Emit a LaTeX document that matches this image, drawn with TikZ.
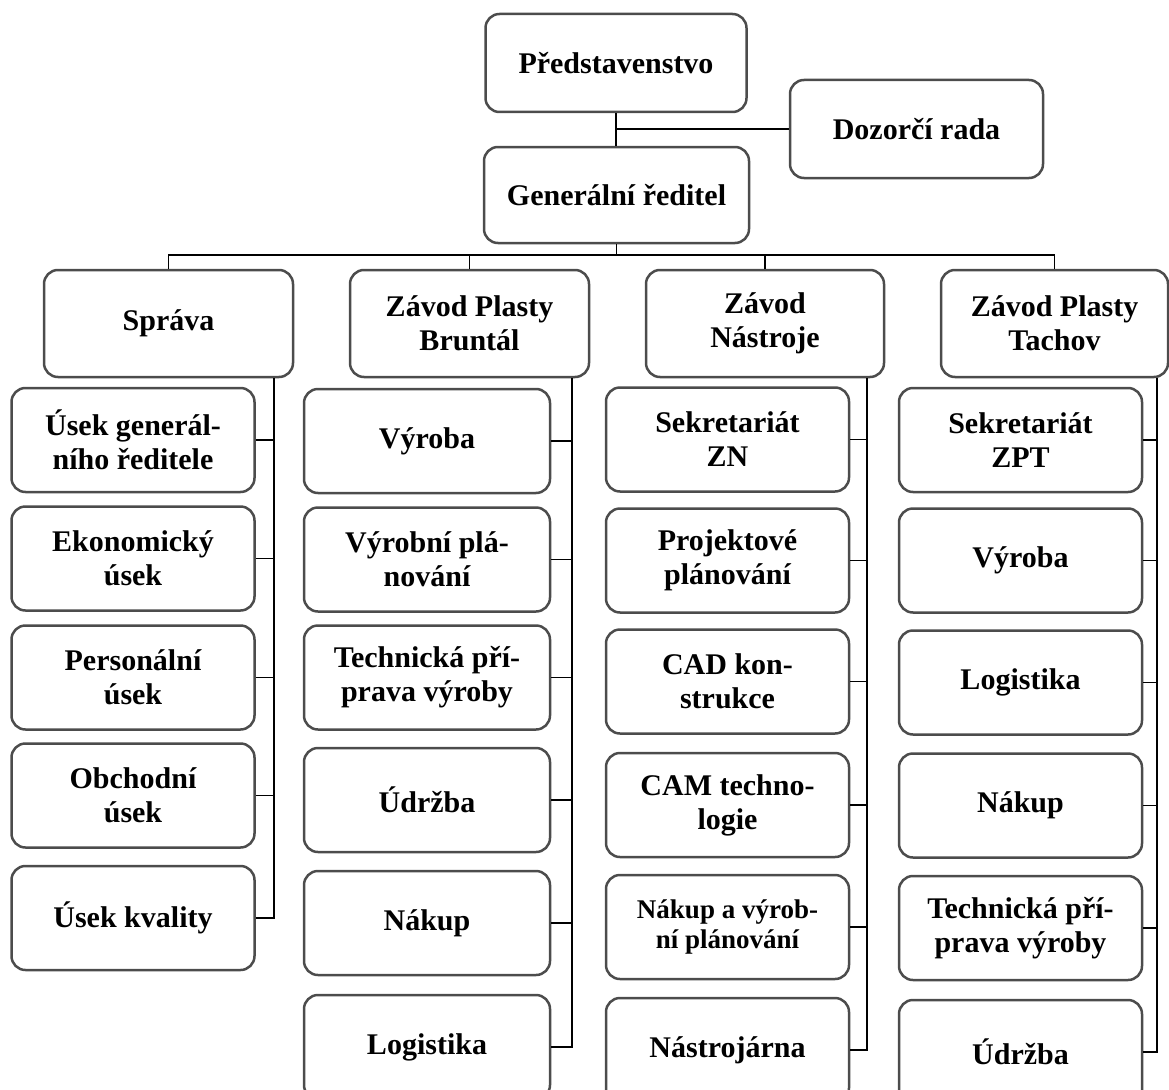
\documentclass[tikz,border=0pt]{standalone}
\usepackage{fontspec}
\setmainfont{Liberation Serif}

\begin{document}
\begin{tikzpicture}[x=1pt, y=-1pt,
		every node/.style={font=\fontsize{30}{34}\selectfont\bfseries},
		unit/.style={draw=black!70, line width=2.5pt, rounded corners=14pt, align=center, inner sep=0pt, minimum width=243pt, minimum height=104pt},
		head/.style={unit, minimum height=107pt},
		link/.style={black, line width=1.8pt}]
		
		\useasboundingbox (0,0) rectangle (1169,1089);
		\clip (0,0) rectangle (1169,1089);
		
		% Top management
		\node[unit, minimum width=261pt, minimum height=98pt] (predst) at (616,63) {Představenstvo};
		\node[unit, minimum width=253pt, minimum height=98pt] (dozor) at (916.5,129) {Dozorčí rada};
		\node[unit, minimum width=265pt, minimum height=96pt] (gen) at (616.5,195) {Generální ředitel};
		
		\draw[link] (predst.south) -- (predst.south |- gen.north);
		\draw[link] (dozor.west) -- (dozor.west -| predst.south);
		
		% Divisions
		\node[head, minimum width=249pt] (sprava) at (168.5,323.5) {Správa};
		\node[head, minimum width=239pt] (brunt) at (469.5,323.5) {Závod Plasty\\Bruntál};
		\node[head, minimum width=238pt] (nastr) at (765,323.5) {Závod\\Nástroje};
		\node[head, minimum width=227pt] (tachov) at (1054.5,323.5) {Závod Plasty\\Tachov};
		
		\coordinate (bus) at ([yshift=-11pt]gen.south);
		\draw[link] (gen.south) -- (bus);
		\draw[link] (sprava.north) |- (bus) -| (tachov.north);
		\draw[link] (brunt.north) -- (brunt.north |- bus);
		\draw[link] (nastr.north) -- (nastr.north |- bus);
		
		% --- Správa ---
		\node[unit] (sgr) at (133,440) {Úsek generál-\\ního ředitele};
		\node[unit] (sek) at (133,558.5) {Ekonomický\\úsek};
		\node[unit] (spe) at (133,677.5) {Personální\\úsek};
		\node[unit] (sob) at (133,795.5) {Obchodní\\úsek};
		\node[unit] (skv) at (133,918) {Úsek kvality};
		
		\coordinate (sS) at ([xshift=-20pt]sprava.south east);
		\draw[link] (sS) |- (sgr.east);
		\draw[link] (sS) |- (sek.east);
		\draw[link] (sS) |- (spe.east);
		\draw[link] (sS) |- (sob.east);
		\draw[link] (sS) |- (skv.east);
		
		% --- Závod Plasty Bruntál ---
		\node[unit, minimum width=246pt] (bvy) at (427,441) {Výroba};
		\node[unit, minimum width=246pt] (bvp) at (427,559.5) {Výrobní plá-\\nování};
		\node[unit, minimum width=246pt] (btp) at (427,677.5) {Technická pří-\\prava výroby};
		\node[unit, minimum width=246pt] (bud) at (427,800) {Údržba};
		\node[unit, minimum width=246pt] (bna) at (427,923) {Nákup};
		\node[unit, minimum width=246pt] (blo) at (427,1047) {Logistika};
		
		\coordinate (bS) at ([xshift=-18pt]brunt.south east);
		\draw[link] (bS) |- (bvy.east);
		\draw[link] (bS) |- (bvp.east);
		\draw[link] (bS) |- (btp.east);
		\draw[link] (bS) |- (bud.east);
		\draw[link] (bS) |- (bna.east);
		\draw[link] (bS) |- (blo.east);
		
		% --- Závod Nástroje ---
		\node[unit] (nse) at (727.5,439.5) {Sekretariát\\ZN};
		\node[unit] (npp) at (727.5,560.5) {Projektové\\plánování};
		\node[unit] (ncad) at (727.5,681.5) {CAD kon-\\strukce};
		\node[unit] (ncam) at (727.5,805) {CAM techno-\\logie};
		\node[unit, font=\fontsize{27}{30}\selectfont\bfseries] (nnv) at (727.5,927) {Nákup a výrob-\\ní plánování};
		\node[unit] (nna) at (727.5,1050) {Nástrojárna};
		
		\coordinate (nS) at ([xshift=-18pt]nastr.south east);
		\draw[link] (nS) |- (nse.east);
		\draw[link] (nS) |- (npp.east);
		\draw[link] (nS) |- (ncad.east);
		\draw[link] (nS) |- (ncam.east);
		\draw[link] (nS) |- (nnv.east);
		\draw[link] (nS) |- (nna.east);
		
		% --- Závod Plasty Tachov ---
		\node[unit] (tse) at (1020.5,440) {Sekretariát\\ZPT};
		\node[unit] (tvy) at (1020.5,560.5) {Výroba};
		\node[unit] (tlo) at (1020.5,682.5) {Logistika};
		\node[unit] (tna) at (1020.5,805.5) {Nákup};
		\node[unit] (ttp) at (1020.5,928) {Technická pří-\\prava výroby};
		\node[unit] (tud) at (1020.5,1052) {Údržba};
		
		\coordinate (tS) at ([xshift=-12pt]tachov.south east);
		\draw[link] (tS) |- (tse.east);
		\draw[link] (tS) |- (tvy.east);
		\draw[link] (tS) |- (tlo.east);
		\draw[link] (tS) |- (tna.east);
		\draw[link] (tS) |- (ttp.east);
		\draw[link] (tS) |- (tud.east);
		
\end{tikzpicture}
\end{document}
